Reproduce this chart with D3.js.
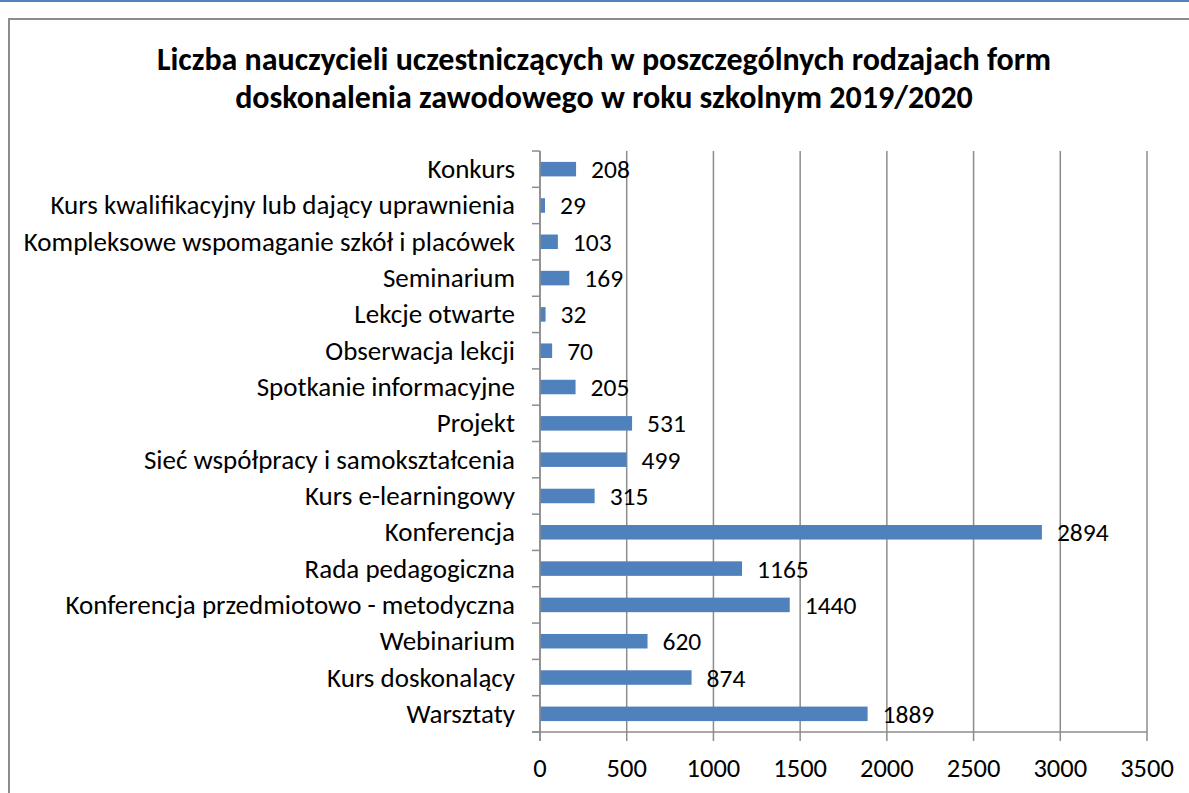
<!DOCTYPE html>
<html>
<head>
<meta charset="utf-8">
<script src="https://cdn.jsdelivr.net/npm/d3@7"></script>
<style>
  body { margin: 0; background: #fff; }
  text { font-family: Carlito, Lato, "Open Sans", sans-serif; fill: #000; }
</style>
</head>
<body>
<script>
var width = 1189,
    height = 793;

// categories, top to bottom
var categories = [
    "Konkurs",
    "Kurs kwalifikacyjny lub dający uprawnienia",
    "Kompleksowe wspomaganie szkół i placówek",
    "Seminarium",
    "Lekcje otwarte",
    "Obserwacja lekcji",
    "Spotkanie informacyjne",
    "Projekt",
    "Sieć współpracy i samokształcenia",
    "Kurs e-learningowy",
    "Konferencja",
    "Rada pedagogiczna",
    "Konferencja przedmiotowo - metodyczna",
    "Webinarium",
    "Kurs doskonalący",
    "Warsztaty"
];
var values = [208, 29, 103, 169, 32, 70, 205, 531, 499, 315, 2894, 1165, 1440, 620, 874, 1889];
var xTicks = [0, 500, 1000, 1500, 2000, 2500, 3000, 3500];
var titleLines = [
    "Liczba nauczycieli uczestniczących w poszczególnych rodzajach form",
    "doskonalenia zawodowego w roku szkolnym 2019/2020"
];

var data = categories.map(function(c, i) { return {name: c, value: values[i]}; });

var svg = d3.select("body")
    .append("svg")
    .attr("width", width)
    .attr("height", height);

// blue line on top and the chart frame
svg.append("rect")
    .attr("x", 0).attr("y", 0)
    .attr("width", width).attr("height", 2)
    .attr("fill", "#4f81bd");

svg.append("rect")
    .attr("x", 9).attr("y", 19)
    .attr("width", 1300).attr("height", 900)
    .attr("fill", "none")
    .attr("stroke", "#8c8c8c")
    .attr("stroke-width", 2);

var title = svg.append("text")
    .attr("text-anchor", "middle")
    .attr("font-weight", "bold")
    .attr("font-size", 32);
title.selectAll("tspan")
    .data(titleLines)
    .enter().append("tspan")
    .attr("x", 604)
    .attr("y", function(d, i) { return 70 + i * 38; })
    .text(function(d) { return d; });

var margin = {left: 540, top: 151, right: 1147, bottom: 732};

var x = d3.scaleLinear()
    .domain([0, 3500])
    .range([margin.left, margin.right]);

var y = d3.scaleBand()
    .domain(categories)
    .range([margin.top, margin.bottom])
    .paddingInner(0.6)
    .paddingOuter(0.3);

var step = y.step();
var gridColor = "#8c8c8c";

// vertical gridlines with ticks below the axis
svg.append("g")
    .selectAll("line")
    .data(xTicks)
    .enter().append("line")
    .attr("x1", function(d) { return x(d); })
    .attr("x2", function(d) { return x(d); })
    .attr("y1", margin.top)
    .attr("y2", margin.bottom + 9)
    .attr("stroke", gridColor)
    .attr("stroke-width", 1.5);

// bottom axis line
svg.append("line")
    .attr("x1", margin.left - 8).attr("x2", margin.right)
    .attr("y1", margin.bottom).attr("y2", margin.bottom)
    .attr("stroke", gridColor)
    .attr("stroke-width", 1.5);

// category boundary ticks on the left
var bounds = d3.range(categories.length + 1).map(function(i) { return margin.top + i * step; });
svg.append("g")
    .selectAll("line")
    .data(bounds)
    .enter().append("line")
    .attr("x1", margin.left - 8).attr("x2", margin.left)
    .attr("y1", function(d) { return d; })
    .attr("y2", function(d) { return d; })
    .attr("stroke", gridColor)
    .attr("stroke-width", 1.5);

// bars
svg.append("g")
    .selectAll("rect")
    .data(data)
    .enter().append("rect")
    .attr("x", x(0))
    .attr("y", function(d) { return y(d.name); })
    .attr("width", function(d) { return x(d.value) - x(0); })
    .attr("height", y.bandwidth())
    .attr("fill", "#4f81bd");

// value labels
svg.append("g")
    .selectAll("text")
    .data(data)
    .enter().append("text")
    .attr("x", function(d) { return x(d.value) + 15; })
    .attr("y", function(d) { return y(d.name) + y.bandwidth() / 2 + 9; })
    .attr("font-size", 25.5)
    .text(function(d) { return d.value; });

// category labels
svg.append("g")
    .selectAll("text")
    .data(data)
    .enter().append("text")
    .attr("x", 515)
    .attr("y", function(d) { return y(d.name) + y.bandwidth() / 2 + 9; })
    .attr("text-anchor", "end")
    .attr("font-size", 27)
    .text(function(d) { return d.name; });

// x axis left vertical line
svg.append("line")
    .attr("x1", margin.left).attr("x2", margin.left)
    .attr("y1", margin.top).attr("y2", margin.bottom + 9)
    .attr("stroke", gridColor)
    .attr("stroke-width", 1.5);

// x tick labels
svg.append("g")
    .selectAll("text")
    .data(xTicks)
    .enter().append("text")
    .attr("x", function(d) { return x(d); })
    .attr("y", 777)
    .attr("text-anchor", "middle")
    .attr("font-size", 26.5)
    .text(function(d) { return d; });
</script>
</body>
</html>
